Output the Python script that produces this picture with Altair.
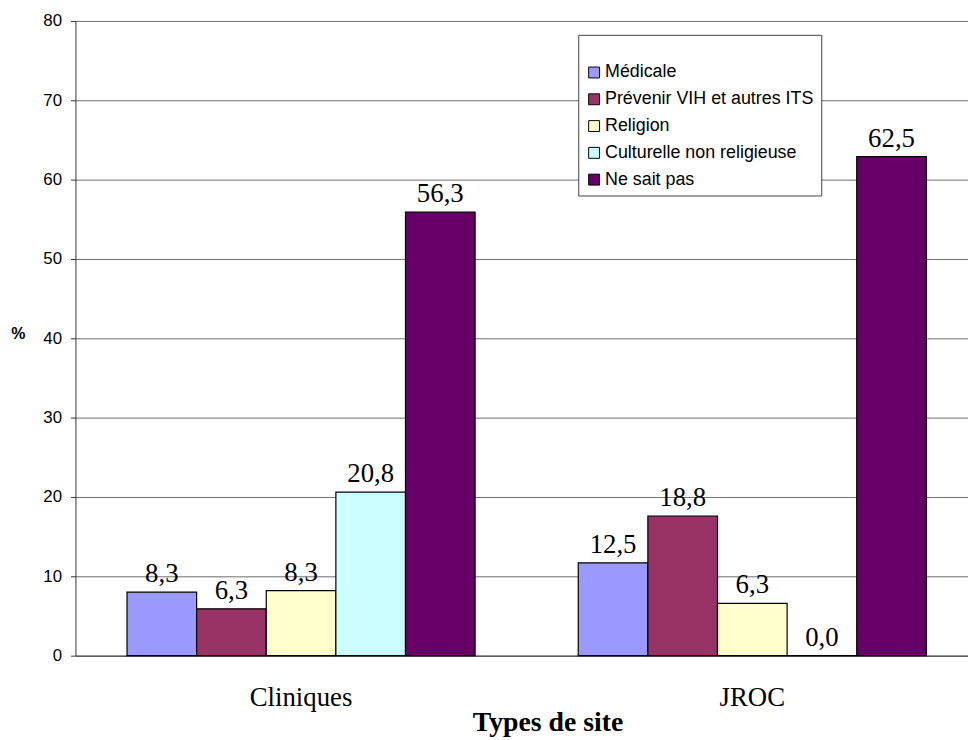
import altair as alt
import pandas as pd

sites = ["Cliniques", "JROC"]
reasons = ["Médicale", "Prévenir VIH et autres ITS", "Religion",
           "Culturelle non religieuse", "Ne sait pas"]
colors = ["#9999FF", "#993366", "#FFFFCC", "#CCFFFF", "#660066"]

# bar heights as drawn
bars_cliniques = [8.0, 5.9, 8.2, 20.6, 55.9]
bars_jroc = [11.7, 17.6, 6.6, 0.0, 62.9]
# data labels as printed
labels_cliniques = [8.3, 6.3, 8.3, 20.8, 56.3]
labels_jroc = [12.5, 18.8, 6.3, 0.0, 62.5]

rows = []
for site, bars, labs in [("Cliniques", bars_cliniques, labels_cliniques),
                         ("JROC", bars_jroc, labels_jroc)]:
    for r, b, l in zip(reasons, bars, labs):
        rows.append({"site": site, "reason": r, "value": b,
                     "label": f"{l:.1f}".replace(".", ",")})
df = pd.DataFrame(rows)

x_scale = alt.Scale(paddingInner=0.2286, paddingOuter=0.1143)
x_enc = alt.X(
    "site:N", sort=sites, scale=x_scale,
    axis=alt.Axis(
        title="Types de site", titleFont="Liberation Serif", titleFontSize=28,
        titleFontWeight="bold", titleColor="black", titleX=476, titleY=75,
        titleAlign="center", titleBaseline="alphabetic", titleAnchor="start",
        labelFont="Liberation Serif", labelFontSize=27, labelColor="black",
        labelBaseline="alphabetic", labelPadding=50, labelAngle=0,
        ticks=False, domainColor="#333", domainWidth=1,
    ),
)
xoff = alt.XOffset("reason:N", sort=reasons,
                   scale=alt.Scale(paddingInner=0, paddingOuter=0))
y_enc = alt.Y(
    "value:Q",
    scale=alt.Scale(domain=[0, 80], nice=False),
    axis=alt.Axis(
        values=list(range(0, 81, 10)), grid=True, gridColor="#6e6e6e",
        gridWidth=1, domainColor="#333", tickColor="#333", tickSize=5,
        labelFont="Liberation Sans", labelFontSize=17, labelColor="black",
        labelPadding=9, title="%", titleAngle=0, titleFont="Liberation Sans",
        titleFontSize=16, titleFontWeight="bold", titleColor="black",
        titleX=-58, titleY=315, titleAlign="center", titleBaseline="middle",
    ),
)

bars = alt.Chart(df).mark_bar(stroke="black", strokeWidth=1.2).encode(
    x=x_enc, xOffset=xoff, y=y_enc,
    color=alt.Color(
        "reason:N", sort=reasons,
        scale=alt.Scale(domain=reasons, range=colors),
        legend=alt.Legend(
            orient="none", legendX=507, legendY=14, title="\u00a0",
            titleFontSize=14, titlePadding=8, padding=7, fillColor="white",
            strokeColor="#444", symbolType="square", symbolSize=121,
            symbolStrokeColor="black", symbolStrokeWidth=1,
            labelFont="Liberation Sans", labelFontSize=18, labelColor="black",
            labelLimit=400, rowPadding=9, labelOffset=2,
        ),
    ),
)

texts = alt.Chart(df).mark_text(
    font="Liberation Serif", fontSize=27, color="black",
    baseline="alphabetic", dy=-10,
).encode(x=alt.X("site:N", sort=sites), xOffset=xoff, y="value:Q", text="label:N")

chart = alt.layer(bars, texts).properties(
    width=910, height=640,
    padding={"left": 68, "top": 10, "right": -10, "bottom": 82},
    autosize=alt.AutoSizeParams(type="none"),
).configure_view(stroke=None)

chart.save("out.html", embed_options={"renderer": "svg", "actions": False})
